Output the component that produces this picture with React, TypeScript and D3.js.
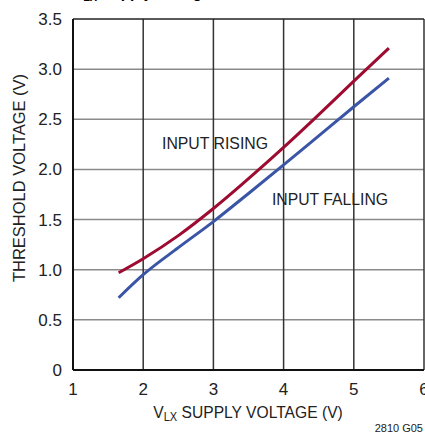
import React, { useEffect, useRef } from "react";
import * as d3 from "d3";

// supply voltage (V) points
const risingX = [1.65, 2.0, 2.5, 3.0, 3.65, 4.0, 4.43, 5.0, 5.5];
const risingY = [0.97, 1.11, 1.34, 1.61, 2.0, 2.22, 2.5, 2.88, 3.21];
const fallingX = [1.65, 2.0, 2.5, 3.0, 3.5, 4.0, 4.5, 5.0, 5.5];
const fallingY = [0.72, 0.95, 1.22, 1.48, 1.76, 2.045, 2.335, 2.625, 2.91];
const xTicks = [1, 2, 3, 4, 5, 6];
const yTicks = [0, 0.5, 1.0, 1.5, 2.0, 2.5, 3.0, 3.5];

const W = 425;
const H = 436;
const FONT = "'Liberation Sans', Arial, sans-serif";

function App() {
  const svgRef = useRef<SVGSVGElement | null>(null);

  useEffect(() => {
    const svg = d3.select(svgRef.current);
    if (!svg.node()) return;
    svg.selectAll("*").remove();

    const x = d3.scaleLinear().domain([1, 6]).range([73, 424]);
    const y = d3.scaleLinear().domain([0, 3.5]).range([370, 19]);

    // title, mostly cut off at the top
    const title = svg.append("text")
      .attr("transform", "translate(73,-2) scale(0.9,1)")
      .attr("font-family", FONT)
      .attr("font-weight", "bold")
      .attr("font-size", 17);
    title.append("tspan").text("V");
    title.append("tspan").attr("font-size", 12).attr("dy", 3).text("LX");
    title.append("tspan").attr("dy", -3).text(" Supply Voltage");

    // grid
    const g = svg.append("g");
    g.selectAll(".hg")
      .data(yTicks.slice(1, -1))
      .join("line")
      .attr("x1", x(1)).attr("x2", x(6))
      .attr("y1", (d) => y(d)).attr("y2", (d) => y(d))
      .attr("stroke", "#8a8a8a").attr("stroke-width", 1.5);
    g.selectAll(".vg")
      .data(xTicks.slice(1))
      .join("line")
      .attr("y1", y(0)).attr("y2", y(3.5))
      .attr("x1", (d) => x(d)).attr("x2", (d) => x(d))
      .attr("stroke", "#333").attr("stroke-width", 1.5);

    // frame
    g.append("line").attr("x1", x(1)).attr("x2", x(6)).attr("y1", y(3.5)).attr("y2", y(3.5))
      .attr("stroke", "#222").attr("stroke-width", 1.5);
    g.append("line").attr("x1", x(1)).attr("x2", x(6)).attr("y1", y(0)).attr("y2", y(0))
      .attr("stroke", "#111").attr("stroke-width", 2);
    g.append("line").attr("x1", x(1)).attr("x2", x(1)).attr("y1", y(0)).attr("y2", y(3.5))
      .attr("stroke", "#111").attr("stroke-width", 2);

    // curves
    const line = d3.line<[number, number]>()
      .x((d) => x(d[0]))
      .y((d) => y(d[1]))
      .curve(d3.curveMonotoneX);
    svg.append("path")
      .datum(fallingX.map((v, i) => [v, fallingY[i]] as [number, number]))
      .attr("fill", "none").attr("stroke", "#3a55a6").attr("stroke-width", 3)
      .attr("d", line);
    svg.append("path")
      .datum(risingX.map((v, i) => [v, risingY[i]] as [number, number]))
      .attr("fill", "none").attr("stroke", "#9e0b30").attr("stroke-width", 3)
      .attr("d", line);

    // tick labels
    svg.selectAll(".yt")
      .data(yTicks)
      .join("text")
      .attr("x", 62).attr("y", (d) => y(d) + 6)
      .attr("text-anchor", "end")
      .attr("font-family", FONT).attr("font-size", 17).attr("fill", "#222")
      .text((d) => (d === 0 ? "0" : d.toFixed(1)));
    svg.selectAll(".xt")
      .data(xTicks)
      .join("text")
      .attr("x", (d) => x(d)).attr("y", 395)
      .attr("text-anchor", "middle")
      .attr("font-family", FONT).attr("font-size", 17).attr("fill", "#222")
      .text((d) => d);

    // axis titles
    svg.append("text")
      .attr("transform", "translate(25,178) rotate(-90) scale(0.97,1)")
      .attr("text-anchor", "middle")
      .attr("font-family", FONT).attr("font-size", 17).attr("fill", "#222")
      .text("THRESHOLD VOLTAGE (V)");
    const xt = svg.append("text")
      .attr("transform", "translate(248,418) scale(0.92,1)")
      .attr("text-anchor", "middle")
      .attr("font-family", FONT).attr("font-size", 17).attr("fill", "#222");
    xt.append("tspan").text("V");
    xt.append("tspan").attr("font-size", 12).attr("dy", 3).text("LX");
    xt.append("tspan").attr("dy", -3).text(" SUPPLY VOLTAGE (V)");

    // curve labels
    svg.append("text").attr("x", 162).attr("y", 149)
      .attr("textLength", 106).attr("lengthAdjust", "spacingAndGlyphs")
      .attr("font-family", FONT).attr("font-size", 17).attr("fill", "#222")
      .text("INPUT RISING");
    svg.append("text").attr("x", 272).attr("y", 205)
      .attr("textLength", 116).attr("lengthAdjust", "spacingAndGlyphs")
      .attr("font-family", FONT).attr("font-size", 17).attr("fill", "#222")
      .text("INPUT FALLING");

    svg.append("text").attr("x", 423).attr("y", 432)
      .attr("text-anchor", "end")
      .attr("font-family", FONT).attr("font-size", 11).attr("fill", "#222")
      .text("2810 G05");
  }, []);

  return (
    <svg
      ref={svgRef}
      width={W}
      height={H}
      style={{ position: "absolute", left: 0, top: 0, display: "block", background: "#fff" }}
    />
  );
}

export default App;
